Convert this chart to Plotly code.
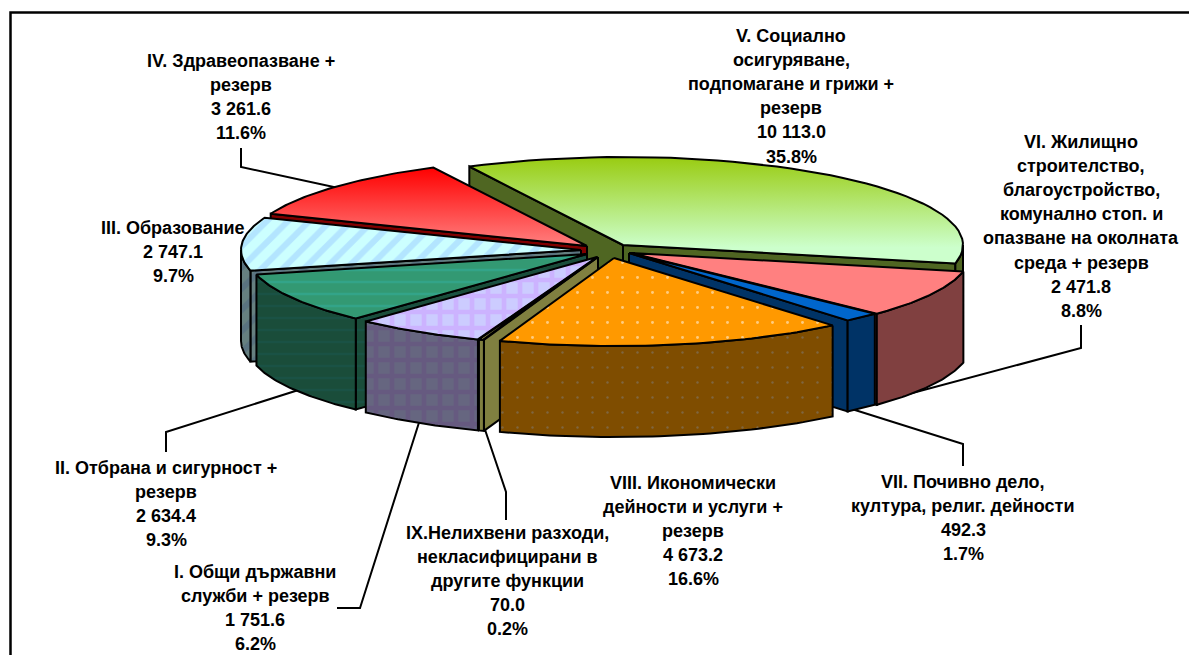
import math
import plotly.graph_objects as go

# ---- data, in the order of the chart's series ----
NAMES = [
    ["I. Общи държавни", "служби + резерв"],
    ["II. Отбрана и сигурност +", "резерв"],
    ["III. Образование"],
    ["IV. Здравеопазване +", "резерв"],
    ["V. Социално", "осигуряване,", "подпомагане и грижи +", "резерв"],
    ["VI. Жилищно", "строителство,", "благоустройство,", "комунално стоп. и", "опазване на околната", "среда + резерв"],
    ["VII. Почивно дело,", "култура, религ. дейности"],
    ["VIII. Икономически", "дейности и услуги +", "резерв"],
    ["IX.Нелихвени разходи,", "некласифицирани в", "другите функции"],
]
VALUES = [1751.6, 2634.4, 2747.1, 3261.6, 10113.0, 2471.8, 492.3, 4673.2, 70.0]
VALUE_TEXT = ["1 751.6", "2 634.4", "2 747.1", "3 261.6", "10 113.0", "2 471.8", "492.3", "4 673.2", "70.0"]
PERCENT_TEXT = ["6.2%", "9.3%", "9.7%", "11.6%", "35.8%", "8.8%", "1.7%", "16.6%", "0.2%"]

# ---- layout and style, all in page pixels ----
CX, CY, RX, RY, DEPTH = 603, 250, 340, 88, 91
START_ANGLE = 200.5
PULL_X = [-6, -16, -22, -16, 20, 28, 26, 11, -5]
PULL_Y = [7, 4, 0, -4, -5, 3, 3, 8, 7]
DRAW_ORDER = [4, 3, 5, 2, 6, 1, 0, 8, 7]
LABEL_CENTER = [255, 166, 173, 241, 791, 1081, 963, 693, 507]
LABEL_TOP = [572, 468, 228, 61, 36, 142, 482, 483, 533]
LINE_STEP = 24.1
TOP = [
    dict(fillpattern=dict(shape="+", fgcolor="#cc99ff", bgcolor="#ccccff", size=16, solidity=0.5)),
    dict(fillpattern=dict(shape="-", fgcolor="#33b0a0", bgcolor="#339973", size=12, solidity=0.2)),
    dict(fillpattern=dict(shape="/", fgcolor="#99ccff", bgcolor="#ccffff", size=15, solidity=0.4)),
    dict(fillgradient=dict(type="vertical", colorscale=[[0, "#ff8080"], [1, "#ff0000"]])),
    dict(fillgradient=dict(type="vertical", colorscale=[[0, "#ccffcc"], [0.15, "#ccffcc"], [1, "#99cc11"]])),
    dict(fillcolor="#ff8080"),
    dict(fillcolor="#0066cc"),
    dict(fillpattern=dict(shape=".", fgcolor="#ffffff", bgcolor="#ff9900", size=15, solidity=0.03)),
    dict(fillcolor="#c8c860"),
]
WALL = [
    dict(fillpattern=dict(shape="+", fgcolor="#664d80", bgcolor="#666680", size=16, solidity=0.5)),
    dict(fillpattern=dict(shape="-", fgcolor="#1a5850", bgcolor="#1a4d3a", size=12, solidity=0.2)),
    dict(fillpattern=dict(shape="/", fgcolor="#4d6680", bgcolor="#668080", size=15, solidity=0.4)),
    dict(fillcolor="#800000"),
    dict(fillcolor="#4f6622"),
    dict(fillcolor="#804040"),
    dict(fillcolor="#003366"),
    dict(fillpattern=dict(shape=".", fgcolor="#808080", bgcolor="#7f4d00", size=15, solidity=0.02)),
    dict(fillcolor="#808040"),
]
EDGE = dict(color="#000000", width=2)
# leader lines run under the pie, so each one ends behind a slice
LEADERS = [
    ([241, 241, 380], [148, 167, 197]),
    ([166, 166, 330], [452, 432, 380]),
    ([337, 360, 430], [608, 608, 388]),
    ([506, 506, 475], [520, 492, 400]),
    ([963, 963, 820], [466, 444, 399]),
    ([1081, 1081, 890], [325, 348, 399]),
]


def rim(cx, cy, a, b, dz=0.0, n=48):
    """Points on the elliptical rim from angle a to b (degrees clockwise from 12 o'clock)."""
    xs, ys = [], []
    for i in range(n + 1):
        t = math.radians(a + (b - a) * i / n)
        xs.append(cx + RX * math.sin(t))
        ys.append(cy - RY * math.cos(t) + dz)
    return xs, ys


def poly(xs, ys, style):
    return go.Scatter(x=xs + xs[:1], y=ys + ys[:1], mode="lines", fill="toself", line=EDGE,
                      hoverinfo="skip", showlegend=False, **style)


total = sum(VALUES)
spans, angle = [], START_ANGLE
for v in VALUES:
    spans.append((angle, angle + v / total * 360))
    angle += v / total * 360

fig = go.Figure()
for xs, ys in LEADERS:
    fig.add_trace(go.Scatter(x=xs, y=ys, mode="lines", line=EDGE, hoverinfo="skip", showlegend=False))

for i in DRAW_ORDER:
    a, b = spans[i]
    cx, cy = CX + PULL_X[i], CY + PULL_Y[i]
    # cut walls: only those that face the viewer
    for edge, visible in ((a, math.sin(math.radians(a)) < 0), (b, math.sin(math.radians(b)) > 0)):
        if visible:
            ex, ey = rim(cx, cy, edge, edge, n=1)
            fig.add_trace(poly([cx, ex[0], ex[0], cx], [cy, ey[0], ey[0] + DEPTH, cy + DEPTH], WALL[i]))
    # outer wall: only the part of the rim that faces the viewer
    for k in (-360, 0, 360):
        lo, hi = max(a, 90 + k), min(b, 270 + k)
        if hi > lo:
            tx, ty = rim(cx, cy, lo, hi)
            bx, by = rim(cx, cy, hi, lo, DEPTH)
            fig.add_trace(poly(tx + bx, ty + by, WALL[i]))
    # top face
    tx, ty = rim(cx, cy, a, b)
    fig.add_trace(poly([cx] + tx, [cy] + ty, TOP[i]))

annotations = []
for i, name in enumerate(NAMES):
    lines = name + [VALUE_TEXT[i], PERCENT_TEXT[i]]
    for j, text in enumerate(lines):
        annotations.append(dict(x=LABEL_CENTER[i], y=LABEL_TOP[i] + j * LINE_STEP, text="<b>" + text + "</b>",
                                showarrow=False, xref="x", yref="y", xanchor="center", yanchor="middle",
                                font=dict(family="Liberation Sans", size=18, color="#000000")))

fig.update_layout(
    width=1189, height=655, margin=dict(l=0, r=0, t=0, b=0),
    paper_bgcolor="#ffffff", plot_bgcolor="#ffffff", showlegend=False,
    xaxis=dict(range=[0, 1189], visible=False, fixedrange=True),
    yaxis=dict(range=[655, 0], visible=False, fixedrange=True),
    annotations=annotations,
    shapes=[dict(type="rect", xref="x", yref="y", x0=10.5, y0=12.5, x1=1200, y1=670,
                 line=dict(color="#000000", width=2.5), fillcolor="rgba(0,0,0,0)")],
)
fig.write_html("out.html", config=dict(displayModeBar=False),
               post_script="document.body.style.margin='0';document.documentElement.style.overflow='hidden';")
